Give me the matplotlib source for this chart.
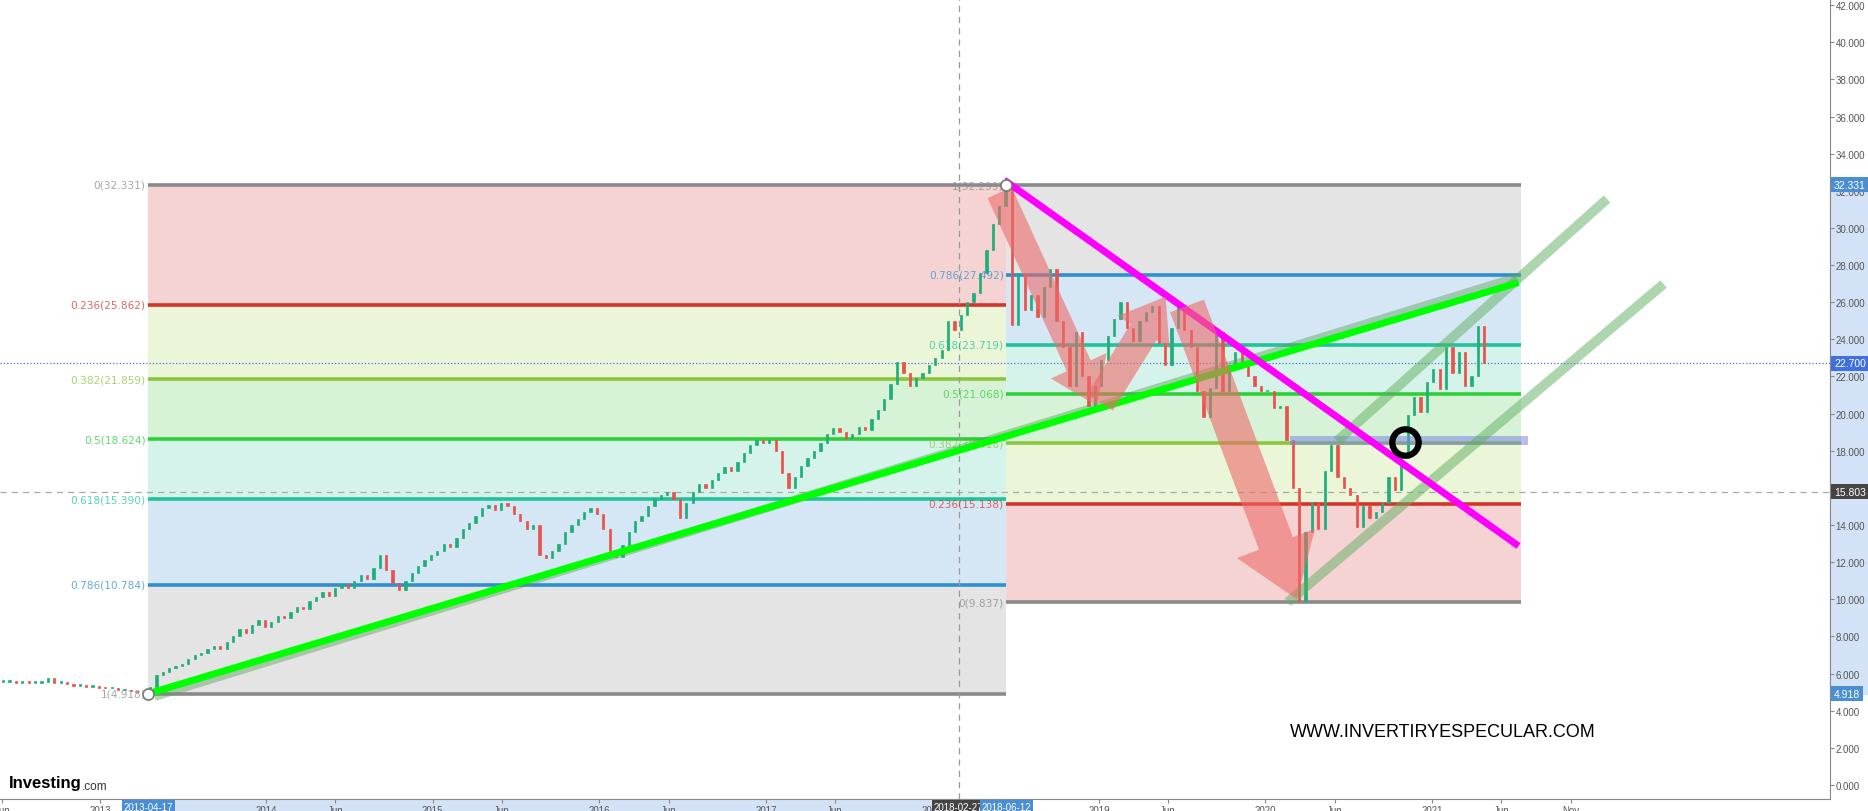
import matplotlib.pyplot as plt
import matplotlib.dates as mdates
import matplotlib.transforms as mtransforms
from matplotlib.patches import Rectangle
import numpy as np
import pandas as pd

# ---- price data: biweekly closes ----
close_2012 = [5.55, 5.55, 5.50, 5.55, 5.50, 5.50, 5.55, 5.75, 5.50, 5.50, 5.45, 5.35, 5.40, 5.30, 5.30, 5.25]
close_2013 = [5.20, 5.20, 5.10, 5.10, 5.05, 5.00, 4.95, 5.30, 5.90, 6.10, 6.30, 6.40, 6.50, 6.80, 7.00, 7.10,
              7.30, 7.50, 7.30, 7.70, 8.00, 8.40, 8.20, 8.60, 8.90, 8.50]
close_2014 = [8.80, 9.10, 9.00, 9.30, 9.60, 9.50, 9.90, 10.1, 10.4, 10.2, 10.6, 10.8, 10.6, 11.0, 11.3, 11.1,
              11.7, 12.4, 11.6, 10.9, 10.5, 11.0, 11.4, 11.8, 12.1, 12.4]
close_2015 = [12.6, 13.0, 12.8, 13.3, 13.8, 14.1, 14.5, 14.9, 15.1, 14.8, 15.2, 15.0, 14.6, 14.2, 13.8, 14.0,
              12.4, 12.2, 12.6, 13.0, 13.6, 14.0, 14.3, 14.7, 14.9, 14.6]
close_2016 = [13.8, 12.6, 12.3, 12.9, 13.6, 14.2, 14.5, 15.0, 15.4, 15.6, 15.8, 15.4, 14.4, 15.2, 15.8, 16.2,
              16.0, 16.4, 16.8, 17.1, 16.9, 17.4, 17.9, 18.3, 18.6, 18.4]
close_2017 = [18.6, 18.0, 16.8, 16.0, 16.6, 17.2, 17.6, 18.0, 18.4, 18.9, 19.2, 19.0, 18.7, 18.9, 19.3, 19.1,
              19.7, 20.2, 20.8, 21.6, 22.8, 22.2, 21.5, 21.9, 22.2, 22.6]
close_2018 = [23.0, 23.4, 25.0, 24.5, 25.3, 26.0, 26.5, 27.6, 28.8, 30.2, 31.2, 32.2, 24.8, 27.6, 25.6, 26.4,
              25.2, 26.8, 27.8, 25.0, 23.6, 21.5, 24.4, 22.0, 20.4, 21.5]
close_2019 = [22.9, 24.2, 25.1, 26.0, 24.6, 23.9, 25.0, 25.5, 25.8, 23.8, 22.6, 24.6, 25.8, 24.5, 23.6, 21.2,
              19.8, 21.4, 24.4, 21.2, 22.6, 23.3, 22.8, 22.0, 21.5, 21.2]
close_2020 = [21.2, 20.3, 20.4, 18.6, 16.0, 9.90, 13.6, 15.2, 13.8, 16.9, 18.3, 16.6, 16.0, 15.6, 13.9, 15.0,
              14.4, 14.7, 15.2, 16.6, 15.9, 17.6, 19.9, 20.9, 20.1, 21.7]
close_2021 = [22.4, 21.3, 23.6, 22.2, 23.3, 21.5, 22.0, 24.7, 22.7]

# ---- fibonacci retracements ----
fib_levels = [0, 0.236, 0.382, 0.5, 0.618, 0.786, 1]
fib1_start, fib1_end = '2013-04-17', '2018-06-12'
fib1_prices = [32.331, 25.862, 21.859, 18.624, 15.390, 10.784, 4.918]
fib2_start, fib2_end = '2018-06-12', '2021-07-14'
fib2_prices = [9.837, 15.138, 18.418, 21.068, 23.719, 27.492, 32.299]

# ---- drawn trend lines / arrows (date, price) ----
green_trend = [('2013-04-17', 4.918), ('2021-07-09', 27.06)]
green_shadow = [('2013-05-01', 4.75), ('2021-07-05', 27.35)]
magenta_trend = [('2018-06-07', 32.58), ('2021-07-09', 12.87)]
channel_low = [('2020-02-19', 9.85), ('2022-05-23', 26.98)]
channel_high = [('2020-06-06', 18.52), ('2022-01-19', 31.56)]
arrows = [(('2018-05-28', 31.9), ('2018-12-28', 20.4)),
          (('2019-01-03', 20.6), ('2019-05-27', 26.3)),
          (('2019-07-13', 25.8), ('2020-03-10', 10.0))]
marker_pt = ('2020-11-03', 18.45)
blue_bar = ('2020-02-23', '2021-07-30', 18.33, 18.78)

last_price, cross_price, cross_date = 22.700, 15.803, '2018-02-27'

xtick_dates = ['2012-06-01', '2013-01-01', '2013-06-01', '2014-01-01', '2014-06-01', '2015-01-01',
               '2015-06-01', '2016-01-01', '2016-06-01', '2017-01-01', '2017-06-01', '2018-01-01',
               '2018-06-01', '2019-01-01', '2019-06-01', '2020-01-01', '2020-06-01', '2021-01-01',
               '2021-06-01', '2021-11-01']
xtick_labels = ['Jun', '2013', 'Jun', '2014', 'Jun', '2015', 'Jun', '2016', 'Jun', '2017', 'Jun', '2018',
                'Jun', '2019', 'Jun', '2020', 'Jun', '2021', 'Jun', 'Nov']


def d(s):
    return mdates.date2num(pd.Timestamp(s))


closes = np.array(close_2012 + close_2013 + close_2014 + close_2015 + close_2016 + close_2017
                  + close_2018 + close_2019 + close_2020 + close_2021)
dates = mdates.date2num(pd.date_range('2012-06-03', periods=len(closes), freq='2W'))
opens = np.r_[closes[0], closes[:-1]]

line_colors = ['#8a8a8a', '#d3352c', '#8cc63c', '#2ecf36', '#20c39a', '#2f8fd0', '#8a8a8a']
zone_colors = ['#f5d3d3', '#ebf5d8', '#d7f3d7', '#d5f3ea', '#d5e7f5', '#e4e4e4']

fig = plt.figure(figsize=(18.68, 8.12), dpi=100)
ax = fig.add_axes([0, 12 / 812, 1830 / 1868, 800 / 812])
ax.set_xlim(d('2012-05-27'), d('2023-05-23'))
ax.set_ylim(-0.754, 42.33)


def draw_fib(x0, x1, prices):
    for i in range(6):
        ax.fill_between([x0, x1], prices[i], prices[i + 1], color=zone_colors[i], lw=0, zorder=1)
    for lvl, p, c in zip(fib_levels, prices, line_colors):
        ax.plot([x0, x1], [p, p], color=c, lw=2.6, zorder=2, solid_capstyle='butt')
        ax.annotate(f'{lvl:g}({p:.3f})', xy=(x0, p), xytext=(-2, 0), textcoords='offset points',
                    ha='right', va='center', color=c, alpha=0.75, fontsize=7.6, zorder=4)


draw_fib(d(fib1_start), d(fib1_end), fib1_prices)
draw_fib(d(fib2_start), d(fib2_end), fib2_prices)

# candles
up = closes >= opens
body = np.maximum(np.abs(closes - opens), 0.08)
ax.bar(dates, body, bottom=np.minimum(opens, closes), width=5,
       color=np.where(up, '#1fae7a', '#e8524a'), edgecolor=np.where(up, '#1fae7a', '#e8524a'),
       lw=0.5, zorder=3)

# crosshair and price lines
ax.axhline(last_price, color='#4a6ee0', lw=0.9, ls=':', zorder=2.5)
ax.axhline(cross_price, color='#aaaaaa', lw=0.9, ls=(0, (5, 4)), zorder=2.5)
ax.axvline(d(cross_date), color='#999999', lw=0.9, ls=(0, (5, 4)), zorder=2.5)

# blue highlight on the 0.382 level
ax.fill_between([d(blue_bar[0]), d(blue_bar[1])], blue_bar[2], blue_bar[3], color='#7f86e6', alpha=0.55,
                lw=0, zorder=3.5)


def seg(pts, **kw):
    ax.plot([d(pts[0][0]), d(pts[1][0])], [pts[0][1], pts[1][1]], solid_capstyle='butt', **kw)


seg(channel_low, color='#5fae5f', alpha=0.5, lw=7, zorder=5)
seg(channel_high, color='#5fae5f', alpha=0.5, lw=7, zorder=5)
seg(green_shadow, color='#5fa05f', alpha=0.45, lw=6, zorder=5)
seg(green_trend, color='#00ff00', lw=5, zorder=5.5)
seg(magenta_trend, color='#ff00ff', lw=5, zorder=5.5)

arrow_sizes = [(3.2, 4.4, 1.9), (3.0, 4.4, 2.2), (4.3, 6.0, 2.6)]
for (tail, tip), (hl, hw, tw) in zip(arrows, arrow_sizes):
    ax.annotate('', xy=(d(tip[0]), tip[1]), xytext=(d(tail[0]), tail[1]),
                arrowprops=dict(arrowstyle=f'simple,head_length={hl},head_width={hw},tail_width={tw}',
                                fc='#ee6a6a', ec='none', alpha=0.6, shrinkA=0, shrinkB=0,
                                mutation_scale=10), zorder=6)

# anchor circles
ax.plot([d(fib1_start), d(fib2_start)], [fib1_prices[-1], fib2_prices[-1]], 'o', ms=8, mfc='white',
        mec='#777777', mew=1.2, zorder=7)
ax.plot(d(marker_pt[0]), marker_pt[1], 'o', ms=19, mfc='none', mec='black', mew=4.5, zorder=7)

# axes styling
for s in ['left', 'top']:
    ax.spines[s].set_visible(False)
for s in ['right', 'bottom']:
    ax.spines[s].set_color('#888888')
ax.yaxis.tick_right()
ax.set_yticks(np.arange(0, 43, 2))
ax.set_yticklabels([f'{v:.3f}' for v in np.arange(0, 43, 2)], family='Liberation Sans')
ax.set_xticks([d(t) for t in xtick_dates])
ax.set_xticklabels(xtick_labels, family='Liberation Sans')
ax.tick_params(axis='y', colors='#888888', labelcolor='#555555', labelsize=7, length=3, pad=1)
ax.tick_params(axis='x', colors='#888888', labelcolor='#555555', labelsize=7, length=3, pad=1)

ty = mtransforms.blended_transform_factory(ax.transAxes, ax.transData)
tx = mtransforms.blended_transform_factory(ax.transData, ax.transAxes)
ax.add_patch(Rectangle((1.0, fib1_prices[-1]), 38 / 1830, fib1_prices[0] - fib1_prices[-1], transform=ty,
                       color='#d3e2f6', clip_on=False, zorder=0))
ax.add_patch(Rectangle((d(fib1_start), -12 / 800), d(fib1_end) - d(fib1_start), 12 / 800, transform=tx,
                       color='#d3e2f6', clip_on=False, zorder=0))

for val, fc in [(fib1_prices[0], '#4a8ed4'), (last_price, '#3f6fe0'), (cross_price, '#444444'),
                (fib1_prices[-1], '#4a8ed4')]:
    ax.text(1.0 + 4 / 1830, val, f'{val:.3f}', transform=ty, ha='left', va='center', fontsize=7.5,
            family='Liberation Sans', color='white', bbox=dict(boxstyle='square,pad=0.25', fc=fc, ec='none'),
            clip_on=False, zorder=8)
for dt, fc in [(fib1_start, '#4a8ed4'), (cross_date, '#444444'), (fib1_end, '#4a8ed4')]:
    ax.text(d(dt), -3 / 800, dt, transform=tx, ha='center', va='top', fontsize=7, color='white',
            family='Liberation Sans', bbox=dict(boxstyle='square,pad=0.2', fc=fc, ec='none'),
            clip_on=False, zorder=8)

fig.text(9 / 1868, 1 - 784 / 812, 'Investing', fontsize=12, weight='bold', va='center',
         family='Liberation Sans')
fig.text(82 / 1868, 1 - 787 / 812, '.com', fontsize=8.5, color='#333333', va='center',
         family='Liberation Sans')
fig.text(1290 / 1868, 1 - 733 / 812, 'WWW.INVERTIRYESPECULAR.COM', fontsize=13, va='center',
         family='Liberation Sans')

fig.savefig('out.png', dpi=100)
